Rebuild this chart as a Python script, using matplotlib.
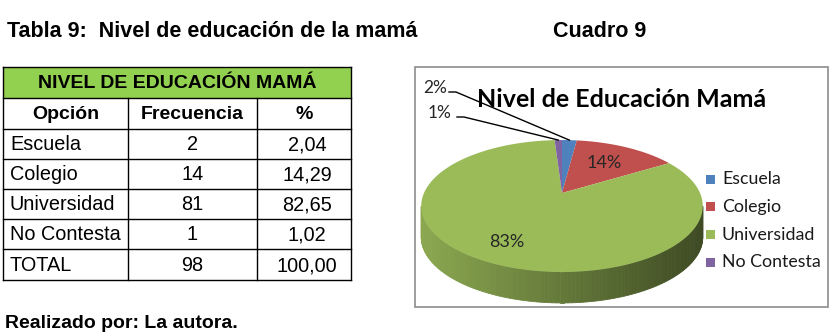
import numpy as np
import matplotlib.pyplot as plt
from matplotlib.patches import Rectangle, Polygon

# datos de la tabla / grafico
opciones = ["Escuela", "Colegio", "Universidad", "No Contesta"]
frecuencia = [2, 14, 81, 1]
porcentaje = ["2,04", "14,29", "82,65", "1,02"]
total_frec = 98
total_pct = "100,00"
etiquetas_pie = ["2%", "14%", "83%", "1%"]
colores = ["#4F81BD", "#C0504D", "#9BBB59", "#8064A2"]

titulo_tabla = "Tabla 9:  Nivel de educación de la mamá"
titulo_cuadro = "Cuadro 9"
titulo_grafico = "Nivel de Educación Mamá"
encabezado = "NIVEL DE EDUCACIÓN MAMÁ"
columnas = ["Opción", "Frecuencia", "%"]
pie_pagina = "Realizado por: La autora."

ARIAL = "Liberation Sans"
CALIBRI = "Lato"

fig = plt.figure(figsize=(8.33, 3.34), dpi=100)
ax = fig.add_axes([0, 0, 1, 1])
ax.set_xlim(0, 833)
ax.set_ylim(334, 0)
ax.axis("off")

# titulos de pagina
ax.text(7, 37, titulo_tabla, family=ARIAL, weight="bold", fontsize=15.5, va="baseline")
ax.text(553, 37, titulo_cuadro, family=ARIAL, weight="bold", fontsize=15.5, va="baseline")
ax.text(5, 328, pie_pagina, family=ARIAL, weight="bold", fontsize=14, va="baseline")

# ---------------- tabla ----------------
col_x = [3, 128, 257, 351]
row_y = [67, 98, 129, 159, 189, 219, 249, 280]

ax.add_patch(Rectangle((col_x[0], row_y[0]), col_x[-1] - col_x[0], row_y[1] - row_y[0],
                       facecolor="#92D050", edgecolor="none"))
ax.text((col_x[0] + col_x[-1]) / 2, (row_y[0] + row_y[1]) / 2 + 1, encabezado,
        family=ARIAL, weight="bold", fontsize=14, ha="center", va="center")

for j, c in enumerate(columnas):
    ax.text((col_x[j] + col_x[j + 1]) / 2, (row_y[1] + row_y[2]) / 2 + 1, c,
            family=ARIAL, weight="bold", fontsize=14, ha="center", va="center")

filas = [(o, str(f), p) for o, f, p in zip(opciones, frecuencia, porcentaje)]
filas.append(("TOTAL", str(total_frec), total_pct))
for i, fila in enumerate(filas):
    yc = (row_y[i + 2] + row_y[i + 3]) / 2 + 1
    ax.text(col_x[0] + 7, yc, fila[0], family=ARIAL, fontsize=14.3, ha="left", va="center")
    ax.text((col_x[1] + col_x[2]) / 2, yc, fila[1], family=ARIAL, fontsize=14.3, ha="center", va="center")
    ax.text((col_x[2] + col_x[3]) / 2 + 3, yc, fila[2], family=ARIAL, fontsize=14.3, ha="center", va="center")

lw = 1.0
for y in row_y:
    ax.plot([col_x[0], col_x[-1]], [y, y], color="black", lw=lw)
ax.plot([col_x[0], col_x[0]], [row_y[0], row_y[-1]], color="black", lw=lw)
ax.plot([col_x[-1], col_x[-1]], [row_y[0], row_y[-1]], color="black", lw=lw)
for x in col_x[1:-1]:
    ax.plot([x, x], [row_y[1], row_y[-1]], color="black", lw=lw)

# ---------------- grafico pastel 3D ----------------
ax.add_patch(Rectangle((415, 67), 413, 240, facecolor="white", edgecolor="#8c8c8c", lw=1.2))
ax.text(622, 107, titulo_grafico, family=CALIBRI, weight="bold", fontsize=18,
        ha="center", va="baseline", color="black")

cx, cy = 562, 193
b, a, k = 138, 63.4, 0.197
depth = 31


def proj(u, v):
    # perspectiva simple del disco unitario
    return cx + b * u / (1 + k * v), cy - a * v / (1 + k * v)


frac = np.array(frecuencia) / np.sum(frecuencia)
cum = np.concatenate([[0], np.cumsum(frac)]) * 360.0  # grados, horario desde arriba

# lado frontal (visible)
phi_lo, phi_hi = sorted([(90 - np.degrees(2 * np.pi - np.arcsin(k))) % 360,
                         (90 - np.degrees(np.pi + np.arcsin(k))) % 360])
for i in range(len(frac)):
    p1, p2 = max(cum[i], phi_lo), min(cum[i + 1], phi_hi)
    if p2 <= p1:
        continue
    base = np.array(plt.matplotlib.colors.to_rgb(colores[i]))
    ph = np.linspace(p1, p2, 120)
    th = np.radians(90 - ph)
    xs, ys = proj(np.cos(th), np.sin(th))
    for j in range(len(ph) - 1):
        t = np.clip(((xs[j] + xs[j + 1]) / 2 - 420) / (700 - 420), 0, 1)
        f = 0.90 - 0.50 * t
        poly = [(xs[j], ys[j]), (xs[j + 1], ys[j + 1]),
                (xs[j + 1], ys[j + 1] + depth), (xs[j], ys[j] + depth)]
        ax.add_patch(Polygon(poly, closed=True, facecolor=base * f, edgecolor=base * f, lw=0.6))

# cara superior
for i in range(len(frac)):
    ph = np.linspace(cum[i], cum[i + 1], max(4, int(frac[i] * 400)))
    th = np.radians(90 - ph)
    xs, ys = proj(np.cos(th), np.sin(th))
    pts = [proj(0, 0)] + list(zip(xs, ys))
    ax.add_patch(Polygon(pts, closed=True, facecolor=colores[i], edgecolor="none"))

# etiquetas
mid = (cum[:-1] + cum[1:]) / 2
radio_etq = [None, 0.62, 0.75, None]
for i, lab in enumerate(etiquetas_pie):
    th = np.radians(90 - mid[i])
    if radio_etq[i] is not None:
        r = radio_etq[i]
        x, y = proj(r * np.cos(th), r * np.sin(th))
        ax.text(x, y, lab, family=CALIBRI, fontsize=13, ha="center", va="center", color="#262626")

# etiquetas externas con lineas guia
externas = {0: (447, 88, 449), 3: (452, 113, 457)}
for i, (xt, yt, xs0) in externas.items():
    th = np.radians(90 - mid[i])
    xe, ye = proj(np.cos(th), np.sin(th))
    ax.text(xt, yt, etiquetas_pie[i], family=CALIBRI, fontsize=12.5, ha="right", va="center", color="#262626")
    ax.plot([xs0, xs0 + 7, xe], [yt + 4, yt + 4, ye], color="black", lw=1.0)

# leyenda
for i, o in enumerate(opciones):
    yl = 179 + i * 27.8
    ax.add_patch(Rectangle((706, yl - 4.5), 9, 9, facecolor=colores[i], edgecolor="none"))
    ax.text(722, yl, o, family=CALIBRI, fontsize=12.8, ha="left", va="center", color="#1a1a1a")

fig.savefig("out.png", dpi=100)
